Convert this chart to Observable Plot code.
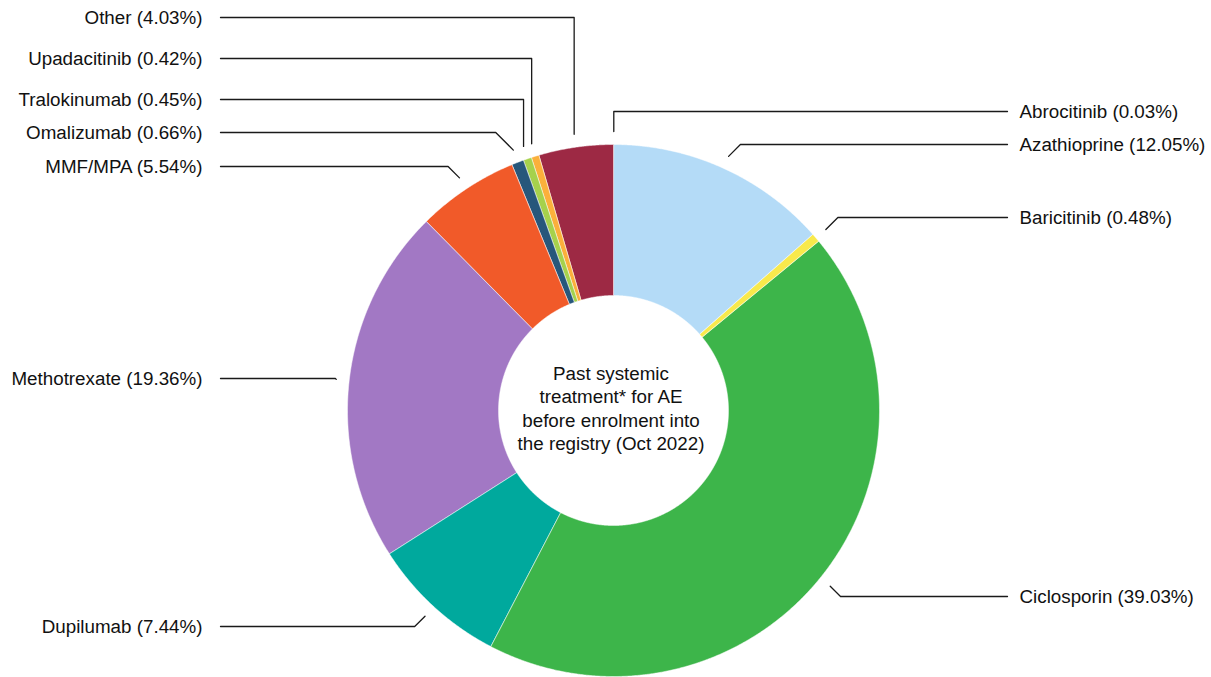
<!DOCTYPE html>
<html><head><meta charset="utf-8">
<script src="https://cdn.jsdelivr.net/npm/d3@7"></script>
<script src="https://cdn.jsdelivr.net/npm/@observablehq/plot@0.6"></script>
<style>body{margin:0;background:#fff} #chart svg{display:block}</style>
</head><body><div id="chart"></div>
<script>
// ---- data ----
const categories = ["Abrocitinib","Azathioprine","Baricitinib","Ciclosporin","Dupilumab","Methotrexate","MMF/MPA","Omalizumab","Tralokinumab","Upadacitinib","Other"];
const shares = [0.03,12.05,0.48,39.03,7.44,19.36,5.54,0.66,0.45,0.42,4.03];
const centerLabel = ["Past systemic","treatment* for AE","before enrolment into","the registry (Oct 2022)"];

// ---- styles / layout ----
const palette = ["#1f4e8c","#b4dbf7","#f8e94c","#3db54a","#00a99d","#a278c4","#f15a29","#27577b","#a6d14c","#fbb03b","#9d2944"];
const W = 1211, H = 677, cx = 613, cy = 410, rOuter = 266, rInner = 115, rLead = 279;
const labelY = [111,144,217,596,626,378,166,132,99,58,17];
const leaderKind = ["vert","diag","diag","diag","diag","diag","diag","diag","vert","vert","vert"];
const rightLineEnd = 1007, rightTextX = 1019, leftLineEnd = 220, leftTextX = 202;
const fontSize = 18.8;

// ---- geometry derived from data ----
const total = d3.sum(shares);
let acc = 0;
const wedges = categories.map((name, i) => {
  const a0 = acc / total * 2 * Math.PI; acc += shares[i];
  const a1 = acc / total * 2 * Math.PI;
  return {name, i, a0, a1, mid: (a0 + a1) / 2};
});
const pt = (a, r) => [cx + r * Math.sin(a), cy - r * Math.cos(a)];
const wedgeRows = wedges.flatMap(w => {
  const n = Math.max(2, Math.ceil((w.a1 - w.a0) / (Math.PI / 720)));
  const pts = [];
  for (let k = 0; k <= n; k++) pts.push(pt(w.a0 + (w.a1 - w.a0) * k / n, rOuter));
  for (let k = n; k >= 0; k--) pts.push(pt(w.a0 + (w.a1 - w.a0) * k / n, rInner));
  return pts.map(([x, y]) => ({name: w.name, x, y}));
});
const labels = wedges.map(w => {
  const [sx, sy] = pt(w.mid, rLead);
  const side = Math.sin(w.mid) >= 0 ? 1 : -1;
  const ly = labelY[w.i];
  const ex = leaderKind[w.i] === "vert" ? sx : sx + side * Math.abs(ly - sy);
  return {name: w.name, side, sx, sy, ex, ly,
    text: `${w.name} (${shares[w.i].toFixed(2)}%)`,
    tx: side > 0 ? rightTextX : leftTextX,
    endX: side > 0 ? rightLineEnd : leftLineEnd};
});
const leaderRows = labels.flatMap(l => [
  {name: l.name, x: l.sx, y: l.sy},
  {name: l.name, x: l.ex, y: l.ly},
  {name: l.name, x: l.endX, y: l.ly}
]);

const chart = Plot.plot({
  width: W, height: H, margin: 0,
  x: {domain: [0, W], range: [0, W], axis: null},
  y: {domain: [0, H], range: [0, H], axis: null},
  color: {domain: categories, range: palette},
  style: {fontFamily: "'Liberation Sans', Arial, Helvetica, sans-serif", background: "#fff"},
  marks: [
    Plot.line(wedgeRows, {x: "x", y: "y", z: "name", fill: "name", stroke: "#ffffff", strokeWidth: 0.5, curve: "linear-closed"}),
    Plot.line(leaderRows, {x: "x", y: "y", z: "name", stroke: "#1a1a1a", strokeWidth: 1.3}),
    Plot.text(labels.filter(l => l.side > 0), {x: "tx", y: "ly", text: "text", textAnchor: "start", fontSize, fill: "#111"}),
    Plot.text(labels.filter(l => l.side < 0), {x: "tx", y: "ly", text: "text", textAnchor: "end", fontSize, fill: "#111"}),
    Plot.text([centerLabel.join("\n")], {x: [cx - 2.5], y: [cy - 3], text: d => d, textAnchor: "middle", lineAnchor: "middle", lineHeight: 1.24, fontSize, fill: "#111"})
  ]
});
document.getElementById("chart").appendChild(chart);
</script>
</body></html>
